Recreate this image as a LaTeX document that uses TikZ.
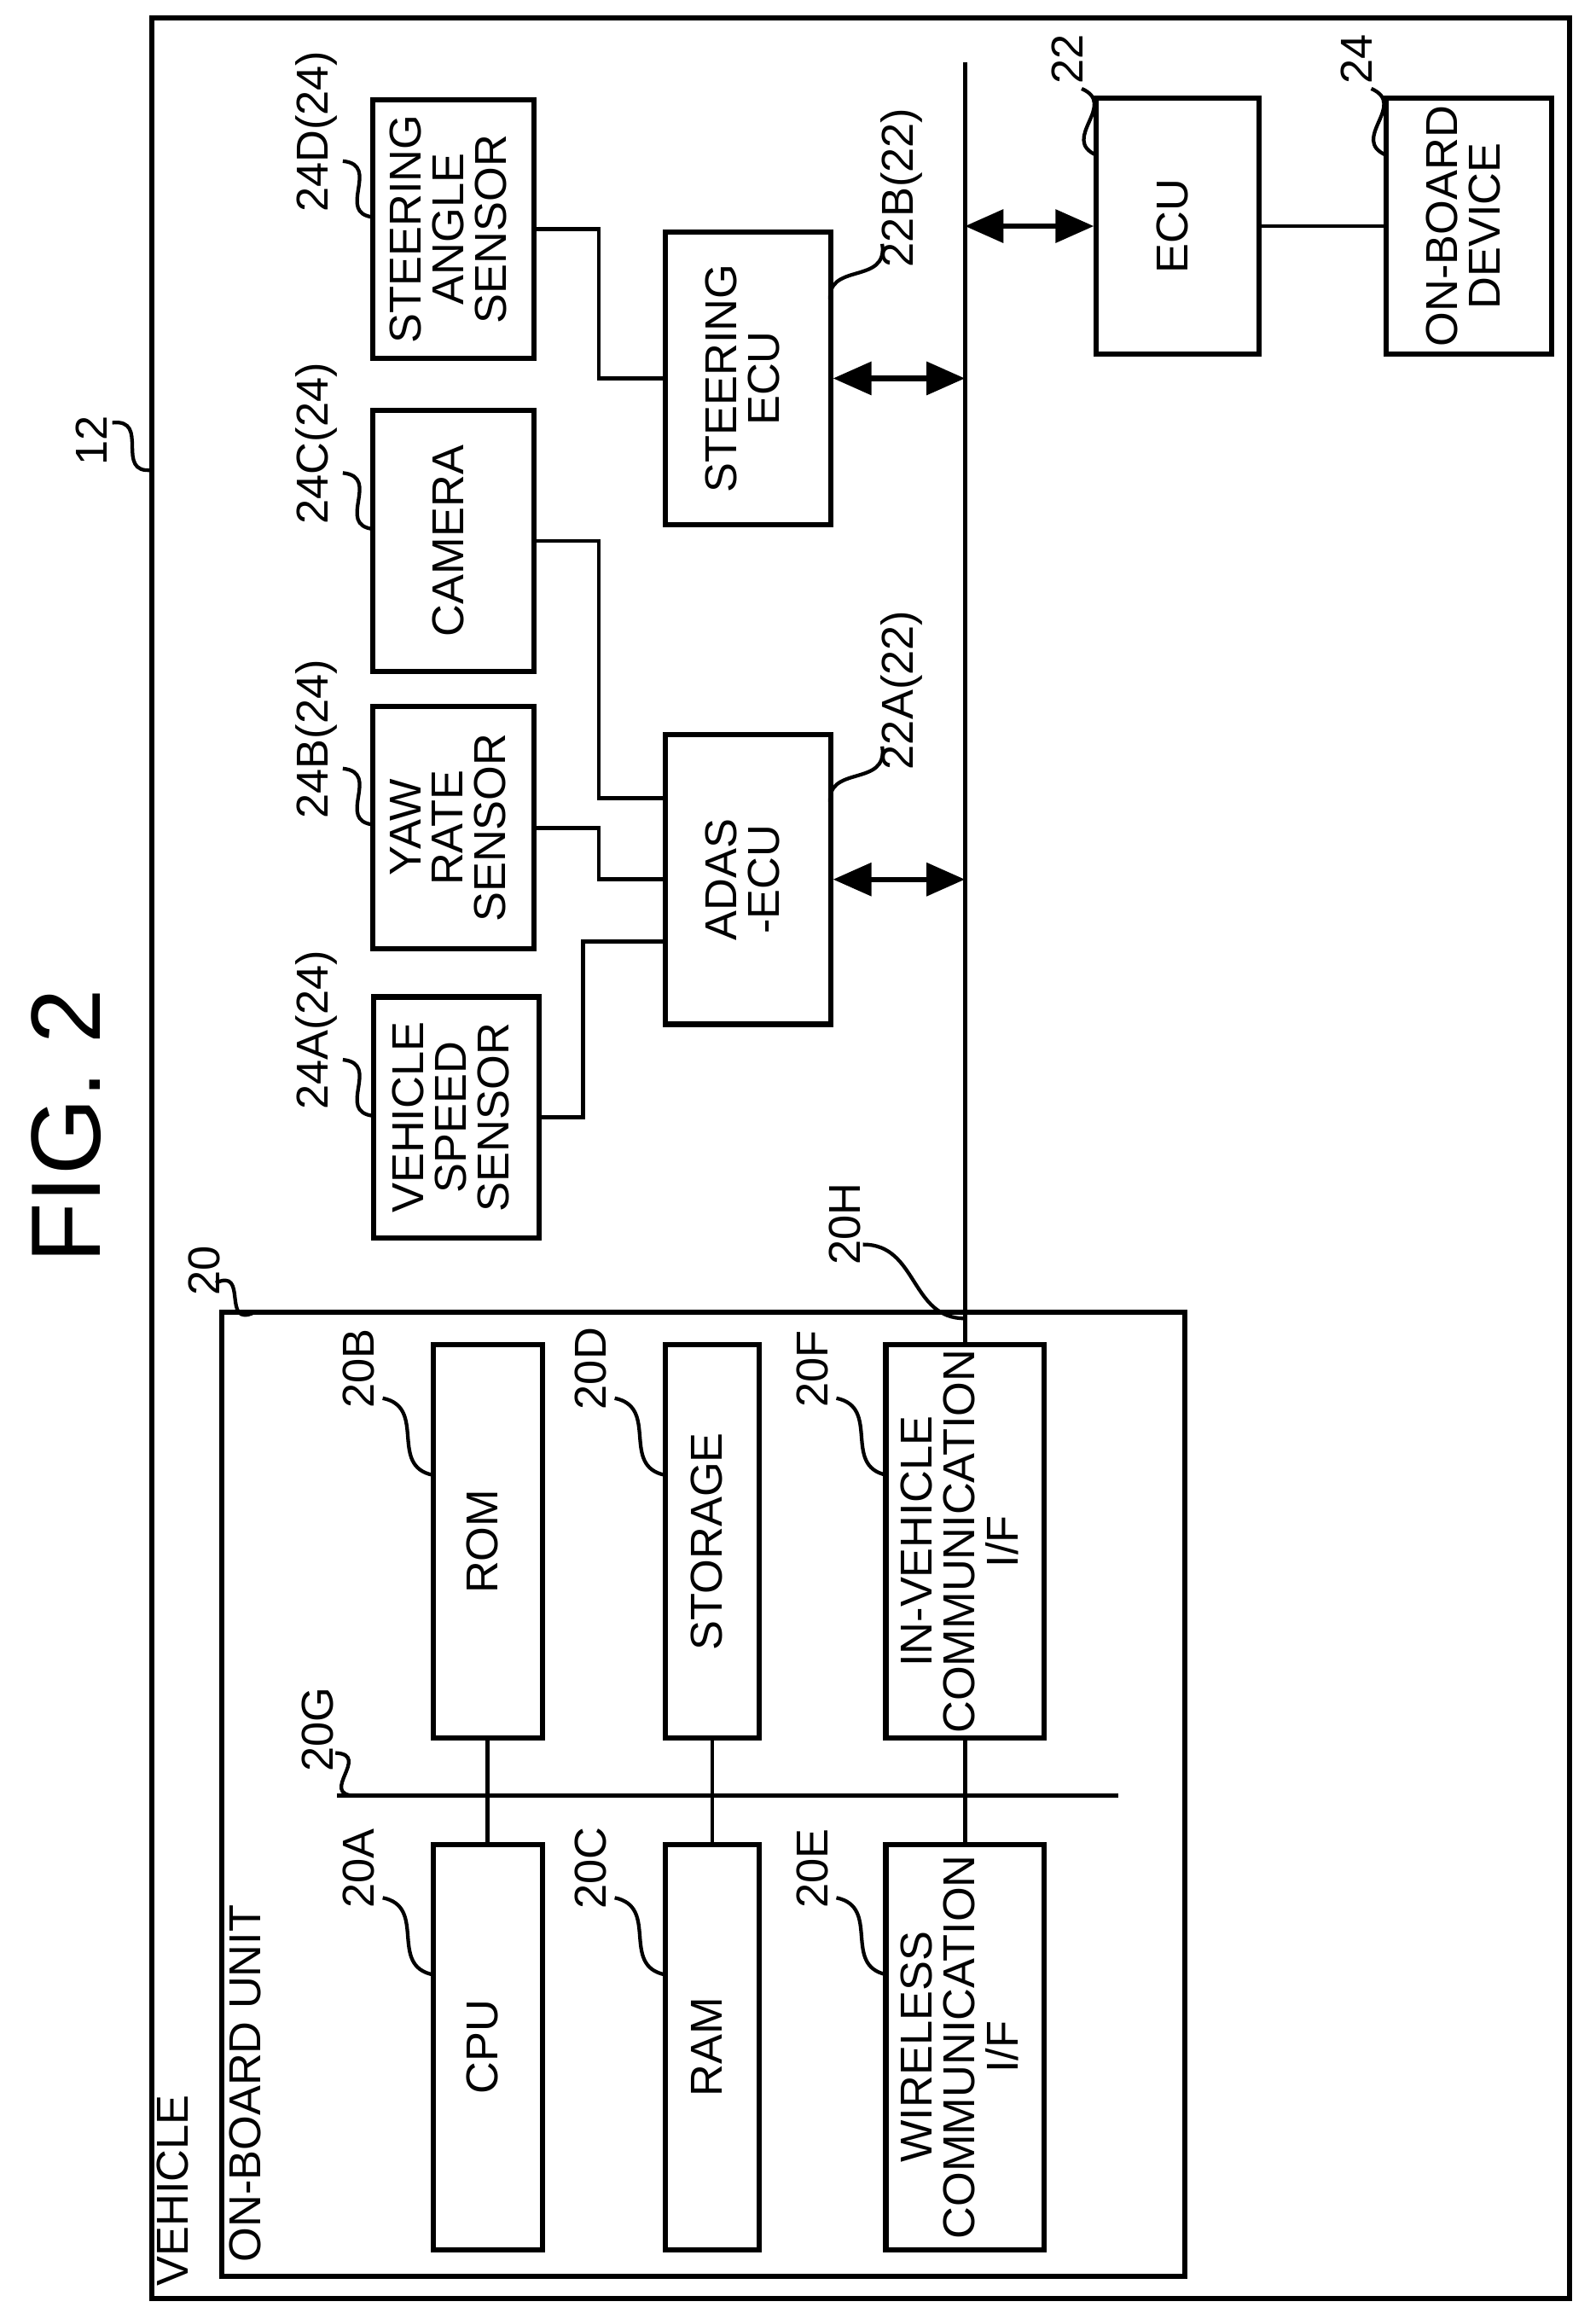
\documentclass[tikz,border=0pt]{standalone}
\usepackage{fontspec}
\setmainfont{Liberation Sans}
\usetikzlibrary{calc,arrows.meta}
\newcommand\vtext[1]{\rotatebox{90}{\renewcommand\arraystretch{0.82}\begin{tabular}{@{}c@{}}#1\end{tabular}}}
\newcommand\leader[2]{\draw[lead] (#1) .. controls ($(#1)!.35!(#2)!2.2mm!90:(#2)$) and ($(#1)!.65!(#2)!2.2mm!-90:(#2)$) .. (#2);}
\begin{document}
\begin{tikzpicture}[x=0.1mm, y=-0.1mm, line width=0.8pt,
  box/.style={draw, line width=1pt, inner sep=0pt, font=\fontsize{8.6}{9}\selectfont},
  lead/.style={line width=0.7pt},
  num/.style={rotate=90, font=\fontsize{8.6}{9}\selectfont, inner sep=0pt},
  dbl/.style={{Triangle[length=2.6mm,width=2.2mm]}-{Triangle[length=2.6mm,width=2.2mm]}, line width=1pt}]
\useasboundingbox (0,0) rectangle (1080,1569);

% frames
\draw[line width=1pt] (103,12) rectangle (1062,1555);
\draw[line width=1pt] (150,888) rectangle (802,1540);
\node[num, anchor=west] at (117,1548) {VEHICLE};
\node[num, anchor=west] at (166,1532) {ON-BOARD UNIT};
\node[num, font=\fontsize{19}{20}\selectfont] (fig) at (45,762) {FIG. 2};

% on-board unit
\node[box, minimum width=7.4mm, minimum height=27.4mm] (cpu) at (330,1385) {\vtext{CPU}};
\node[box, minimum width=7.4mm, minimum height=26.6mm] (rom) at (330,1043) {\vtext{ROM}};
\node[box, minimum width=6.4mm, minimum height=27.4mm] (ram) at (482,1385) {\vtext{RAM}};
\node[box, minimum width=6.4mm, minimum height=26.6mm] (sto) at (482,1043) {\vtext{STORAGE}};
\node[box, minimum width=10.7mm, minimum height=27.4mm] (wif) at (653,1385) {\vtext{WIRELESS\\COMMUNICATION\\I/F}};
\node[box, minimum width=10.7mm, minimum height=26.6mm] (vif) at (653,1043) {\vtext{IN-VEHICLE\\COMMUNICATION\\I/F}};

% sensors and ECUs
\node[box, minimum width=11.2mm, minimum height=16.3mm] (vss) at (309,756) {\vtext{VEHICLE\\SPEED\\SENSOR}};
\node[box, minimum width=10.9mm, minimum height=16.4mm] (yaw) at (307,560) {\vtext{YAW\\RATE\\SENSOR}};
\node[box, minimum width=10.9mm, minimum height=17.7mm] (cam) at (307,366) {\vtext{CAMERA}};
\node[box, minimum width=10.9mm, minimum height=17.5mm] (sas) at (307,155) {\vtext{STEERING\\ANGLE\\SENSOR}};
\node[box, minimum width=11.2mm, minimum height=19.6mm] (adas) at (506,595) {\vtext{ADAS\\-ECU}};
\node[box, minimum width=11.2mm, minimum height=19.8mm] (secu) at (506,256) {\vtext{STEERING\\ECU}};
\node[box, minimum width=11mm, minimum height=17.3mm] (ecu) at (797,153) {\vtext{ECU}};
\node[box, minimum width=11.2mm, minimum height=17.3mm] (obd) at (994,153) {\vtext{ON-BOARD\\DEVICE}};

% buses
\coordinate (gl) at (228,1215);
\coordinate (gr) at (757,1215);
\coordinate (htop) at (653,42);
\draw (gl) -- (gr);
\draw (htop) -- (vif.north);
\draw (cpu.north) -- (rom.south);
\draw (ram.north) -- (sto.south);
\draw (wif.north) -- (vif.south);

% wiring
\draw (vss.east) -- ++(28,0) |- ([yshift=-4.2mm]adas.west);
\draw (yaw.east) -- ++(42,0) |- (adas.west);
\draw (cam.east) -- ++(42,0) |- ([yshift=5.5mm]adas.west);
\draw (sas.east) -- ++(42,0) |- (secu.west);
\draw[dbl] (adas.east) -- (adas.east -| htop);
\draw[dbl] (secu.east) -- (secu.east -| htop);
\draw[dbl] (ecu.west -| htop) -- (ecu.west);
\draw (ecu.east) -- (obd.west);

% reference numerals
\node[num] (n12) at (62,298) {12};
\coordinate (a12) at (103,318); \leader{76,286}{a12}
\node[num] (n20) at (138,860) {20};
\coordinate (a20) at (172,888); \leader{146,868}{a20}
\foreach \nm/\txt/\x/\y in {n20A/20A/293/1248, n20B/20B/293/910, n20C/20C/450/1248, n20D/20D/450/910, n20E/20E/600/1248, n20F/20F/600/910}{
  \node[num] (\nm) at (\x-50,\y+16) {\txt};
  \leader{\x-34,\y+36}{\x,\y+88}
}
\node[num] (n20G) at (215,1170) {20G};
\leader{227,1186}{240,1215}
\node[num] (n20H) at (572,828) {20H};
\leader{584,842}{653,892}
\foreach \nm/\txt/\y in {n24A/24A(24)/675, n24B/24B(24)/478, n24C/24C(24)/278, n24D/24D(24)/67}{
  \node[num] (\nm) at (214,\y+22) {\txt};
  \leader{232,\y+42}{253,\y+80}
}
\node[num] (n22A) at (610,467) {22A(22)};
\leader{597,505}{562,545}
\node[num] (n22B) at (610,127) {22B(22)};
\leader{597,165}{562,205}
\node[num] (n22) at (722,40) {22};
\leader{732,60}{742,105}
\node[num] (n24) at (918,40) {24};
\leader{928,60}{938,105}
\end{tikzpicture}
\end{document}
